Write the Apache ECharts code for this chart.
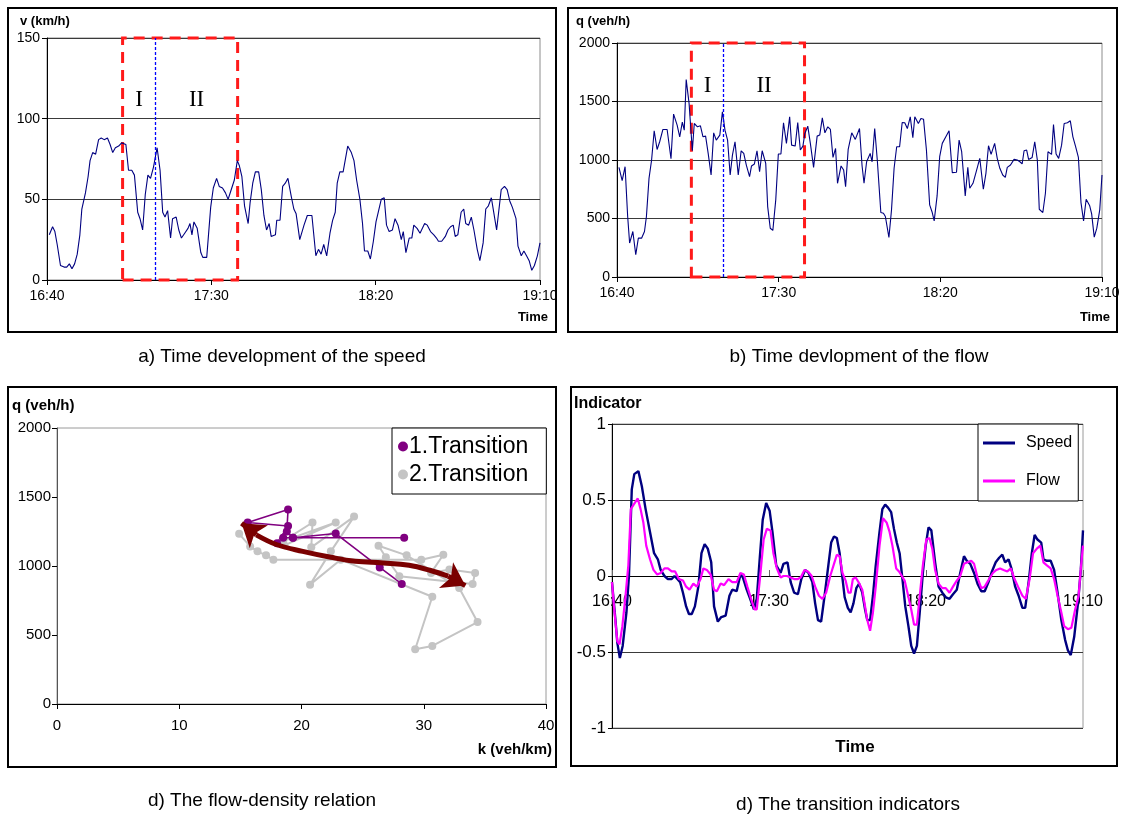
<!DOCTYPE html>
<html>
<head>
<meta charset="utf-8">
<script src="https://cdn.jsdelivr.net/npm/echarts@6/dist/echarts.min.js"></script>
<style>
  html, body { margin: 0; padding: 0; background: #fff; }
  #chart { width: 1125px; height: 821px; }
</style>
</head>
<body>
<div id="chart"></div>
<script>
// Time is counted in minutes after 16:40.
const TIME_LABELS = ['16:40', '17:30', '18:20', '19:10'];

// Phase markers (minutes after 16:40): start of phase I, I/II boundary, end of phase II
const PHASE_START = 23;
const PHASE_SPLIT = 33;
const PHASE_END = 58;

// a) speed v (km/h)
const SPEED = [
[0.7,28],[1.7,33],[2.4,30],[3.1,22],[4.1,9],[5.2,8],[6,8],[6.8,10],[7.6,7],[8.4,10],[9.2,16],[10,28],[10.6,44],[11.7,54],[12.5,64],[13.1,74],[13.9,79],[14.8,78],[15.7,87],[16.5,88],[17.4,87],[18.4,88],[19.2,84],[20,79],[20.8,82],[21.8,83],[22.7,85],[23.2,85],[24,84],[24.8,68],[25.8,68],[26.6,65],[27.6,42],[28.3,38],[29.1,31],[29.9,53],[30.7,65],[31.5,63],[32.4,70],[33.5,82],[34.4,68],[35.2,42],[35.9,39],[36.7,43],[37.6,26],[38.2,38],[39.3,39],[40.1,31],[40.9,26],[41.9,29],[42.9,32],[43.5,35],[44.1,28],[44.7,36],[45.7,32],[46.8,17],[47.4,14],[48.6,14],[49.8,45],[50.6,57],[51.6,63],[52.4,58],[53.4,57],[54.3,54],[55.1,50],[55.9,55],[57,62],[57.9,74],[58.5,71],[59.3,64],[60.1,46],[61.2,35],[61.8,48],[62.6,60],[63.4,67],[64.4,67],[65.2,56],[66,40],[66.8,31],[67.6,35],[68.2,27],[69.5,28],[69.9,37],[70.9,37],[71.7,58],[72.5,60],[73.3,63],[74.3,52],[75.1,44],[75.8,41],[76.9,25],[78.2,34],[79.2,40],[80.6,40],[81.8,15],[82.6,19],[83.4,16],[84.2,22],[85.1,15],[86.1,29],[86.9,37],[87.7,42],[88.3,60],[89.1,67],[90.1,67],[91.5,83],[92.6,79],[93.4,74],[94.2,62],[95.2,50],[96,35],[96.6,18],[97.6,18],[98.4,13],[99.3,24],[100.1,36],[100.9,43],[101.7,50],[102.6,51],[103.3,34],[104.1,30],[105.1,31],[105.9,38],[106.8,34],[107.8,25],[108.4,30],[109.2,17],[110.2,26],[111,26],[111.6,34],[112.6,32],[113.5,29],[114.9,35],[115.7,34],[116.7,30],[117.7,28],[118.5,26],[119.1,24],[120.1,24],[121.2,27],[122,31],[122.8,33],[123.6,34],[124.2,27],[125,28],[126,42],[126.8,44],[127.4,35],[128.3,34],[129.1,39],[129.9,31],[130.9,19],[131.7,12],[132.7,23],[133.5,44],[134.3,46],[135.2,51],[136,41],[136.8,31],[138.2,56],[139.2,58],[140,56],[140.8,49],[141.6,45],[142.7,38],[143.3,21],[144.3,15],[145.1,18],[145.9,15],[146.7,12],[147.5,6],[148.3,9],[149.2,15],[150,23]
];

// b) flow q (veh/h)
const FLOW = [
[0.6,937],[1.6,824],[2.5,943],[3.3,517],[3.9,290],[4.9,389],[5.8,190],[6.6,332],[7.6,332],[8.5,389],[9.1,517],[9.9,843],[10.7,1000],[11.5,1250],[12.4,1090],[13.2,1156],[14.2,1261],[15.5,1261],[16.7,1011],[17.5,1392],[18.6,1298],[19.4,1198],[20.2,1323],[20.8,1255],[21.4,1687],[22.3,1482],[23.3,1079],[23.9,1312],[24.9,1284],[25.8,1292],[26.6,1198],[27.4,1204],[28.2,1056],[29.1,872],[29.9,1232],[30.7,1170],[31.8,1213],[32.6,1411],[33.4,1255],[34.2,1170],[35,872],[35.7,1042],[36.5,1156],[37.5,872],[38.4,1079],[39.2,1056],[40,957],[41,858],[41.6,949],[42.5,966],[43.3,1079],[44.1,900],[44.9,1079],[46,971],[46.6,602],[47.4,417],[48.2,398],[49.1,659],[49.9,1051],[50.7,1051],[51.5,1318],[52.4,1142],[53.4,1369],[54,1127],[55.1,1119],[55.9,1321],[56.7,1085],[57.5,1119],[58.1,1227],[59,1289],[59.8,1142],[60.8,937],[61.9,1204],[62.7,1213],[63.5,1360],[64.3,1232],[65.2,1284],[66,1261],[66.8,1022],[67.6,1099],[68.2,801],[69.3,949],[70.1,914],[70.7,772],[71.5,1091],[72.6,1232],[73.7,1176],[75,1269],[75.8,949],[76.4,801],[77.2,985],[78.3,1056],[78.9,985],[79.7,1269],[80.5,1000],[81.6,551],[82.4,545],[83,517],[84.1,338],[84.9,574],[85.7,929],[86.5,1113],[87.4,1113],[88.2,1321],[89,1318],[89.8,1269],[90.7,1369],[91.5,1190],[92.1,1369],[93.2,1312],[94,1355],[94.8,1349],[95.7,1085],[96.7,616],[97.5,551],[98.1,480],[99,693],[99.8,1028],[100.6,1142],[101.7,1198],[102.7,1250],[103.7,892],[105,895],[105.8,1170],[106.6,1071],[107.7,693],[108.5,937],[109.1,758],[110.1,801],[111.1,900],[112.2,1014],[113.3,750],[114.1,886],[114.9,1122],[115.7,1048],[116.8,1142],[117.6,1014],[118.4,929],[119.3,872],[120.1,852],[120.7,937],[121.7,957],[122.8,1005],[123.8,1000],[124.6,985],[125.3,966],[125.9,1079],[126.7,1085],[127.3,1005],[128.4,1022],[129.2,1156],[130,1000],[130.6,579],[131.7,551],[132.5,716],[133.3,1071],[134.4,1048],[135,1304],[135.8,1051],[136.6,1014],[137.5,1127],[138.3,1312],[139.3,1318],[140.2,1335],[141,1198],[141.8,1119],[142.7,1022],[143.5,636],[144.3,480],[145.1,665],[146.2,608],[146.8,540],[147.6,341],[148.4,417],[149.3,574],[150,872]
];

// c) flow-density trajectories: [k (veh/km), q (veh/h)]
const TRANSITION_1 = [
[28.2,870],[26.4,990],[22.8,1235],[19.3,1205],[18.5,1205],[18.0,1165],[18.9,1290],[15.6,1315],[18.9,1410],[18.8,1250],[19.3,1205],[28.4,1205]
];
const TRANSITION_2 = [
[14.9,1233],[15.8,1142],[16.4,1106],[17.1,1077],[17.7,1046],[29.8,1046],[31.6,1082],[30.6,950],[32.1,974],[34.2,950],[34.0,870],[28.0,926],[26.9,1063],[26.3,1147],[28.6,1077],[32.9,841],[34.4,594],[30.7,421],[29.3,397],[30.7,777],[23.2,1046],[20.7,865],[22.4,1106],[24.3,1358],[20.8,1135],[20.9,1315],[18.5,1180],[22.8,1315],[18.6,1150]
];
// trend curve between the two regimes
const TREND = [
[16.3,1226],[18.0,1154],[20.1,1106],[22.4,1063],[24.4,1034],[26.7,1022],[28.8,1005],[30.5,969],[32.0,926]
];
const TREND_TIP_START = [15.1,1310];
const TREND_TIP_END = [33.4,858];

// d) transition indicators
const IND_SPEED = [
[0,-0.04],[1.1,-0.29],[1.7,-0.44],[2.5,-0.54],[3.4,-0.46],[4.6,-0.24],[5.4,0],[6.3,0.57],[7.1,0.67],[8.4,0.69],[9.5,0.59],[10.7,0.44],[12.1,0.29],[13.4,0.15],[14.6,0.11],[15.5,0.04],[16.7,0],[17.8,-0.02],[19,-0.02],[19.9,0],[20.8,-0.02],[21.7,-0.04],[22.6,-0.11],[23.6,-0.2],[24.5,-0.25],[25.4,-0.25],[26.4,-0.2],[27.5,-0.07],[28.5,0.15],[29.5,0.21],[30.5,0.18],[31.6,0.09],[32.5,-0.2],[33.7,-0.3],[34.8,-0.27],[36.2,-0.26],[37.4,-0.13],[38.3,-0.09],[39.7,-0.1],[40.9,0.01],[41.7,-0.01],[42.9,-0.09],[44,-0.15],[45.2,-0.22],[46.1,-0.15],[47.1,0.13],[48,0.37],[49.1,0.48],[50.2,0.43],[51.1,0.29],[52.3,0.07],[53.7,0.02],[54.6,0.08],[55.9,0.09],[56.9,-0.04],[58,-0.11],[59.2,-0.12],[60.3,-0.02],[61.5,0.04],[62.6,0.02],[63.8,-0.04],[64.7,-0.18],[65.6,-0.29],[66.6,-0.3],[67.7,-0.13],[68.9,0.07],[69.8,0.22],[70.7,0.26],[71.6,0.25],[72.5,0.15],[73.2,0.02],[74.1,-0.14],[75.1,-0.21],[76,-0.24],[76.9,-0.18],[77.8,-0.08],[78.7,-0.05],[79.7,-0.11],[80.6,-0.22],[81.3,-0.29],[82.2,-0.29],[83.1,-0.13],[84,0.07],[85.2,0.29],[86.1,0.44],[87,0.47],[87.9,0.45],[88.9,0.42],[89.8,0.31],[90.7,0.22],[91.6,0.15],[92.5,-0.02],[93.4,-0.2],[94.4,-0.33],[95.3,-0.46],[96.2,-0.51],[97.1,-0.46],[98,-0.24],[99,0.02],[99.9,0.2],[100.8,0.32],[101.7,0.3],[102.9,0.09],[104,-0.07],[105.2,-0.11],[106.3,-0.14],[107.5,-0.15],[108.6,-0.12],[109.8,-0.09],[110.9,0.02],[112.1,0.13],[113,0.1],[114.1,0.08],[115.3,0.02],[116.4,-0.05],[117.6,-0.1],[118.7,-0.1],[119.9,-0.04],[121,0.03],[122.2,0.09],[123.3,0.12],[124.3,0.14],[125.2,0.09],[126.3,0.11],[127.2,0.05],[128.4,-0.07],[129.5,-0.13],[130.7,-0.21],[131.6,-0.21],[132.8,-0.02],[133.7,0.15],[134.6,0.27],[135.5,0.24],[136.7,0.22],[137.4,0.11],[138.5,0.1],[139.7,0.1],[140.8,0.04],[141.9,-0.11],[143.1,-0.29],[144.3,-0.42],[145.2,-0.49],[146.1,-0.52],[147.2,-0.4],[148.4,-0.18],[149.3,0.04],[150,0.3]
];
const IND_FLOW = [
[0,-0.04],[0.8,-0.24],[1.7,-0.43],[2.4,-0.45],[3.3,-0.33],[4.3,-0.13],[5.2,0.07],[6,0.44],[6.9,0.47],[8.2,0.51],[9.1,0.44],[10,0.35],[10.9,0.2],[12.1,0.11],[13.2,0.04],[14.4,0.01],[15.5,0.02],[16.7,0.05],[17.8,0.05],[19,0.03],[20.1,0.03],[21.3,-0.02],[22.6,-0.03],[23.6,-0.07],[24.7,-0.09],[25.9,-0.05],[27,-0.07],[28.2,-0.02],[29.1,0.05],[30.2,0.04],[31.4,0.01],[32.5,-0.09],[33.4,-0.1],[34.6,-0.05],[35.7,-0.06],[37.1,-0.02],[38.3,-0.04],[39.7,-0.04],[40.9,0.02],[42,0.01],[43.1,-0.07],[44.3,-0.15],[45.4,-0.22],[46.1,-0.22],[47.1,-0.02],[48.3,0.24],[49.3,0.31],[50.5,0.3],[51.4,0.15],[52.5,0.05],[53.7,-0.01],[54.6,0],[55.7,0],[56.9,-0.01],[58,-0.02],[59.2,-0.02],[60.1,-0.01],[61.3,0.04],[62.4,0.03],[63.6,0],[64.7,-0.07],[65.9,-0.13],[67,-0.15],[68.2,-0.11],[69.5,0],[70.7,0.08],[71.6,0.14],[72.5,0.13],[73.4,0.02],[74.4,-0.03],[75.3,-0.11],[76,-0.11],[76.7,-0.02],[77.6,-0.01],[78.5,-0.04],[79.7,-0.09],[80.6,-0.2],[81.3,-0.29],[82.2,-0.36],[83.1,-0.24],[84,-0.07],[85.2,0.2],[86.3,0.38],[87.5,0.35],[88.4,0.29],[89.3,0.2],[90.5,0.05],[91.4,0.03],[92.3,0],[93.2,-0.03],[94.1,-0.11],[95.3,-0.22],[96.2,-0.32],[97.1,-0.32],[98,-0.13],[99,0.07],[100.1,0.24],[101.1,0.25],[102,0.18],[102.9,0.04],[104,-0.05],[105.2,-0.08],[106.3,-0.08],[107.5,-0.11],[108.6,-0.07],[109.8,-0.03],[110.9,0],[112.1,0.08],[113.2,0.09],[114.4,0.1],[115.3,0.08],[116.4,-0.01],[117.6,-0.08],[118.7,-0.07],[120.1,-0.02],[121.3,0.02],[122.4,0.04],[123.6,0.05],[124.7,0.04],[125.9,0.03],[127,0.05],[128.2,-0.02],[129.3,-0.07],[130.7,-0.13],[131.8,-0.15],[133,-0.02],[134.1,0.15],[135.3,0.18],[136.4,0.2],[137.4,0.09],[138.5,0.07],[139.7,0.05],[140.8,-0.02],[141.9,-0.13],[143.1,-0.24],[144,-0.33],[145.2,-0.35],[146.3,-0.34],[147.5,-0.22],[148.6,-0.13],[149.4,0.07],[150,0.2]
];

const FONT = '"Liberation Sans", Arial, sans-serif';
const SERIF = '"Liberation Serif", "Times New Roman", serif';

const timeLabel = v => TIME_LABELS[Math.round(v / 50)] || '';
const plainNumber = v => String(v);

function timeAxis(gridIndex, opts) {
  return Object.assign({
    gridIndex, type: 'value', min: 0, max: 150, interval: 50,
    axisLine: { show: true, onZero: false, lineStyle: { color: '#000', width: 1 } },
    axisTick: { show: true, length: 5, lineStyle: { color: '#000' } },
    axisLabel: { formatter: timeLabel, fontFamily: FONT, fontSize: 14, color: '#000', margin: 9 },
    splitLine: { show: false }
  }, opts || {});
}
function valueAxis(gridIndex, min, max, interval, opts) {
  return Object.assign({
    gridIndex, type: 'value', min, max, interval,
    axisLine: { show: true, lineStyle: { color: '#000', width: 1 } },
    axisTick: { show: true, length: 5, lineStyle: { color: '#000' } },
    axisLabel: { formatter: plainNumber, fontFamily: FONT, fontSize: 14, color: '#000', margin: 7 },
    splitLine: { show: true, lineStyle: { color: '#3a3a3a', width: 1 } }
  }, opts || {});
}

// dashed red frame around both phases, plus the phase labels I and II
function phaseAreas(labelDistance) {
  return {
    silent: true,
    label: { show: true, position: 'insideTop', distance: labelDistance,
             fontFamily: SERIF, fontSize: 23, color: '#000' },
    itemStyle: { color: 'rgba(0,0,0,0)' },
    data: [
      [{ name: '', xAxis: PHASE_START, label: { show: false },
         itemStyle: { color: 'rgba(0,0,0,0)', borderColor: '#ff1a1a', borderWidth: 3, borderType: [11, 7] } },
       { xAxis: PHASE_END }],
      [{ name: 'I', xAxis: PHASE_START }, { xAxis: PHASE_SPLIT }],
      [{ name: 'II', xAxis: PHASE_SPLIT }, { xAxis: PHASE_END }]
    ]
  };
}
const splitLine = {
  silent: true, symbol: ['none', 'none'], label: { show: false },
  lineStyle: { color: '#0000ff', type: [3, 2], width: 1.3, opacity: 1 },
  emphasis: { disabled: true },
  data: [{ xAxis: PHASE_SPLIT, lineStyle: { color: '#0000ff' } }]
};

const boldText = (x, y, text, size, align) => ({
  type: 'text', x, y,
  style: { text, fontFamily: FONT, fontWeight: 'bold', fontSize: size, fill: '#000', textAlign: align || 'left', textVerticalAlign: 'middle' }
});
const caption = (x, y, text) => ({
  type: 'text', x, y,
  style: { text, fontFamily: FONT, fontSize: 19, fill: '#000', textAlign: 'center', textVerticalAlign: 'middle' }
});
const frame = (x1, y1, x2, y2) => ({
  type: 'rect', shape: { x: x1, y: y1, width: x2 - x1, height: y2 - y1 },
  style: { fill: 'none', stroke: '#000', lineWidth: 2 }, z: 100
});

const option = {
  animation: false,
  backgroundColor: '#fff',
  grid: [
    { left: 47, top: 38, width: 493, height: 242, show: true, borderColor: '#8c8c8c', borderWidth: 1 },
    { left: 617, top: 43, width: 485, height: 234, show: true, borderColor: '#8c8c8c', borderWidth: 1 },
    { left: 57, top: 428, width: 489, height: 276, show: true, borderColor: '#9a9a9a', borderWidth: 1 },
    { left: 612, top: 424, width: 471, height: 304, show: true, borderColor: '#9a9a9a', borderWidth: 1 }
  ],
  xAxis: [
    timeAxis(0),
    timeAxis(1),
    { gridIndex: 2, type: 'value', min: 0, max: 40, interval: 10,
      axisLine: { show: true, lineStyle: { color: '#000' } },
      axisTick: { show: true, length: 5, lineStyle: { color: '#000' } },
      axisLabel: { fontFamily: FONT, fontSize: 15, color: '#000', margin: 14 },
      splitLine: { show: false } },
    // indicator time axis sits on the zero line (half the plot height above the bottom)
    timeAxis(3, {
      position: 'bottom', offset: -152,
      axisLine: { show: true, onZero: false, lineStyle: { color: '#000', width: 1 } },
      axisTick: { show: true, inside: true, length: 6, lineStyle: { color: '#666' } },
      axisLabel: { formatter: timeLabel, fontFamily: FONT, fontSize: 16, color: '#000', margin: 18 }
    })
  ],
  yAxis: [
    valueAxis(0, 0, 150, 50),
    valueAxis(1, 0, 2000, 500),
    valueAxis(2, 0, 2000, 500, {
      axisLine: { show: true, lineStyle: { color: '#555' } },
      axisLabel: { formatter: plainNumber, fontFamily: FONT, fontSize: 15, color: '#000', margin: 6 },
      splitLine: { show: false } }),
    valueAxis(3, -1, 1, 0.5, {
      axisTick: { show: true, length: 4, lineStyle: { color: '#000' } },
      axisLabel: { formatter: plainNumber, fontFamily: FONT, fontSize: 17, color: '#000', margin: 6 } })
  ],
  legend: [
    { data: ['1.Transition', '2.Transition'], orient: 'vertical', left: 392, top: 428,
      backgroundColor: '#fff', borderColor: '#000', borderWidth: 1, borderRadius: 0,
      padding: [6, 18, 7, 6], itemGap: 3, itemWidth: 10, itemHeight: 10, icon: 'circle',
      textStyle: { fontFamily: FONT, fontSize: 23, color: '#000', padding: [0, 0, 0, -4], lineHeight: 25 } },
    { data: ['Speed', 'Flow'], orient: 'vertical', left: 978, top: 424,
      backgroundColor: '#fff', borderColor: '#000', borderWidth: 1, borderRadius: 0,
      padding: [9, 6, 10, 5], itemGap: 18, itemWidth: 32, itemHeight: 3, icon: 'rect',
      textStyle: { fontFamily: FONT, fontSize: 16, color: '#000', padding: [0, 0, 0, 6], lineHeight: 20 } }
  ],
  series: [
    { name: 'v', type: 'line', xAxisIndex: 0, yAxisIndex: 0, data: SPEED,
      symbol: 'none', color: '#000080', lineStyle: { width: 1.1 },
      markArea: phaseAreas(50), markLine: splitLine },
    { name: 'q', type: 'line', xAxisIndex: 1, yAxisIndex: 1, data: FLOW,
      symbol: 'none', color: '#000080', lineStyle: { width: 1.1 },
      markArea: phaseAreas(31), markLine: splitLine },
    { name: '2.Transition', type: 'line', xAxisIndex: 2, yAxisIndex: 2, data: TRANSITION_2,
      symbol: 'circle', symbolSize: 8, showSymbol: true, color: '#c4c4c4', lineStyle: { width: 2 } },
    { name: '1.Transition', type: 'line', xAxisIndex: 2, yAxisIndex: 2, data: TRANSITION_1,
      symbol: 'circle', symbolSize: 8, showSymbol: true, color: '#800080', lineStyle: { width: 1.6 } },
    { name: 'trend', type: 'line', xAxisIndex: 2, yAxisIndex: 2, data: TREND,
      symbol: 'none', smooth: 0.4, color: '#7a0000', lineStyle: { width: 5 }, z: 5 },
    { name: 'trendTips', type: 'lines', coordinateSystem: 'cartesian2d', xAxisIndex: 2, yAxisIndex: 2,
      symbol: ['none', 'arrow'], symbolSize: [18, 22], z: 5,
      lineStyle: { color: '#7a0000', width: 5, opacity: 1 },
      data: [
        { coords: [TREND[0], TREND_TIP_START] },
        { coords: [TREND[TREND.length - 1], TREND_TIP_END] }
      ] },
    { name: 'Speed', type: 'line', xAxisIndex: 3, yAxisIndex: 3, data: IND_SPEED,
      symbol: 'none', color: '#000080', lineStyle: { width: 2.4 } },
    { name: 'Flow', type: 'line', xAxisIndex: 3, yAxisIndex: 3, data: IND_FLOW,
      symbol: 'none', color: '#ff00ff', lineStyle: { width: 2.2 } }
  ],
  graphic: [
    frame(8, 8, 556, 332),
    frame(568, 8, 1117, 332),
    frame(8, 387, 556, 767),
    frame(571, 387, 1117, 766),
    boldText(20, 21, 'v (km/h)', 13),
    boldText(548, 317, 'Time', 13, 'right'),
    boldText(576, 21, 'q (veh/h)', 13),
    boldText(1110, 317, 'Time', 13, 'right'),
    boldText(12, 406, 'q (veh/h)', 15),
    boldText(552, 750, 'k (veh/km)', 15, 'right'),
    boldText(574, 404, 'Indicator', 16),
    boldText(855, 747, 'Time', 17, 'center'),
    caption(282, 357, 'a) Time development of the speed'),
    caption(859, 357, 'b) Time devlopment of the flow'),
    caption(262, 801, 'd) The flow-density relation'),
    caption(848, 805, 'd) The transition indicators')
  ]
};

const chart = echarts.init(document.getElementById('chart'), null, { renderer: 'canvas' });
chart.setOption(option);
</script>
</body>
</html>
